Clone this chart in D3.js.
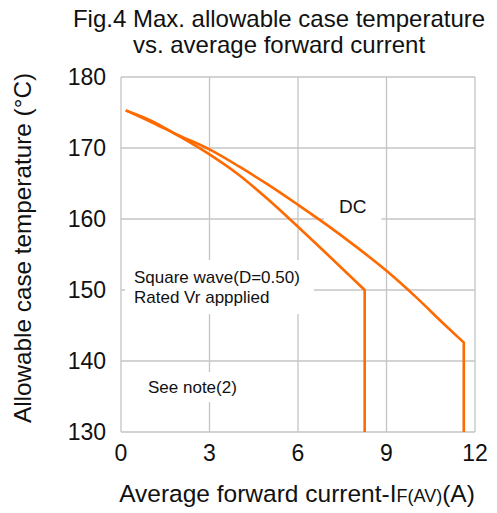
<!DOCTYPE html>
<html><head><meta charset="utf-8">
<script src="https://cdn.jsdelivr.net/npm/d3@7"></script>
<style>
html,body{margin:0;padding:0;background:#fff;}
text{font-family:"Liberation Sans",Arial,sans-serif;fill:#111;}
</style></head>
<body><svg id="c" width="497" height="513"></svg>
<script>
const xTicks = [0, 3, 6, 9, 12];
const yTicks = [130, 140, 150, 160, 170, 180];
const dcCurrent = [0.16, 1, 2, 3, 4, 5, 6, 7, 8, 9, 10, 11, 11.62];
const dcTemp    = [175.3, 173.7, 171.7, 169.8, 167.4, 164.8, 162.0, 159.1, 156.0, 152.7, 149.0, 145.0, 142.6];
const sqCurrent = [0.16, 1, 2, 3, 4, 5, 6, 7, 8.26];
const sqTemp    = [175.3, 173.9, 171.6, 169.1, 166.2, 162.7, 158.9, 155.0, 150.0];
const titleLines = ["Fig.4 Max. allowable case temperature", "vs. average forward current"];

const svg = d3.select("#c");
const L = 121, R = 475, T = 77, B = 432;
const x = d3.scaleLinear().domain([0, 12]).range([L, R]);
const y = d3.scaleLinear().domain([130, 180]).range([B, T]);
const grid = "#c4c4c4";

// grid
svg.append("g").selectAll("line").data(xTicks).join("line")
  .attr("x1", d => x(d)).attr("x2", d => x(d)).attr("y1", T).attr("y2", B)
  .attr("stroke", grid).attr("stroke-width", 1.3);
svg.append("g").selectAll("line").data(yTicks).join("line")
  .attr("y1", d => y(d)).attr("y2", d => y(d)).attr("x1", L).attr("x2", R)
  .attr("stroke", grid).attr("stroke-width", 1.3);

// annotations with white boxes
function note(lines, tx, ty, lh, fs, pad) {
  const g = svg.append("g");
  const r = g.append("rect").attr("fill", "#fff");
  const t = g.append("text").attr("font-size", fs);
  lines.forEach((s, i) => t.append("tspan").attr("x", tx).attr("y", ty + i * lh).text(s));
  const bb = t.node().getBBox();
  r.attr("x", bb.x - pad[3]).attr("y", bb.y - pad[0])
   .attr("width", bb.width + pad[1] + pad[3]).attr("height", bb.height + pad[0] + pad[2]);
}
note(["Square wave(D=0.50)", "Rated Vr appplied"], 134, 283, 20, 17, [8, 14, 7, 9]);
note(["See note(2)"], 148, 393, 0, 17, [6, 10, 5, 10]);
note(["DC"], 339, 213, 0, 19, [4, 15, 5, 15]);

// curves
const line = d3.line().x(d => x(d[0])).y(d => y(d[1])).curve(d3.curveMonotoneX);
function series(I, Tm) {
  const pts = I.map((v, i) => [v, Tm[i]]);
  const last = pts[pts.length - 1];
  const p = line(pts) + "L" + x(last[0]) + "," + y(130);
  svg.append("path").attr("d", p).attr("fill", "none")
    .attr("stroke", "#ff6a00").attr("stroke-width", 2.6).attr("stroke-linejoin", "round");
}
series(dcCurrent, dcTemp);
series(sqCurrent, sqTemp);

// tick labels
svg.append("g").selectAll("text").data(yTicks).join("text")
  .attr("x", 106).attr("y", d => y(d)).attr("dy", "0.35em")
  .attr("text-anchor", "end").attr("font-size", 23).text(d => d);
svg.append("g").selectAll("text").data(xTicks).join("text")
  .attr("x", d => x(d)).attr("y", 461)
  .attr("text-anchor", "middle").attr("font-size", 23).text(d => d);

// titles
svg.append("g").selectAll("text").data(titleLines).join("text")
  .attr("x", 279).attr("y", (d, i) => 27 + i * 26)
  .attr("text-anchor", "middle").attr("font-size", 24).text(d => d);

// axis labels
svg.append("text").attr("transform", "translate(31,248) rotate(-90)")
  .attr("text-anchor", "middle").attr("font-size", 24.3).text("Allowable case temperature (°C)");
const xl = svg.append("text").attr("x", 297).attr("y", 502).attr("text-anchor", "middle").attr("font-size", 24.5);
xl.append("tspan").text("Average forward current-I");
xl.append("tspan").attr("font-size", 18).text("F(AV)");
xl.append("tspan").text("(A)");
</script></body></html>
